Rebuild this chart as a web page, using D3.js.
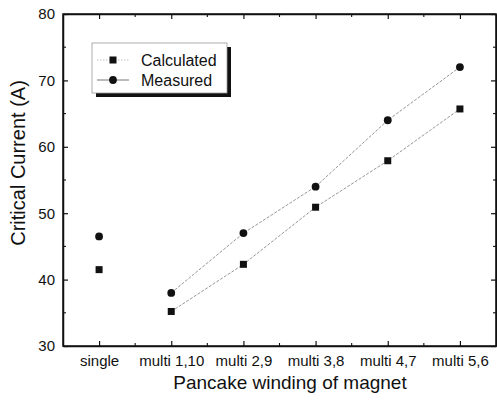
<!DOCTYPE html>
<html>
<head>
<meta charset="utf-8">
<script src="https://d3js.org/d3.v7.min.js"></script>
<style>
body { margin: 0; background: #fff; }
svg { font-family: Arial, "Liberation Sans", sans-serif; }
.axis path { stroke: #111; stroke-width: 1.5; }
.axis line { stroke: #111; stroke-width: 1.2; }
.axis text { font-size: 15px; fill: #111; }
</style>
</head>
<body>
<svg class="canvas"></svg>
<script>
var categories = ["single", "multi 1,10", "multi 2,9", "multi 3,8", "multi 4,7", "multi 5,6"];
var calculated = [41.5, 35.2, 42.3, 50.9, 57.9, 65.7];
var measured   = [46.5, 38.0, 47.0, 54.0, 64.0, 72.0];
var yTicks = [30, 40, 50, 60, 70, 80];
var yMinor = [35, 45, 55, 65, 75];
var seriesNames = ["Calculated", "Measured"];

var width = 497,
	height = 405;

var LEFT = 63, RIGHT = 496, TOP = 14, BOTTOM = 346;

var svg = d3.select(".canvas")
	.attr("width", width)
	.attr("height", height);

var x = d3.scalePoint().domain(categories).range([LEFT, RIGHT]).padding(0.5);
var y = d3.scaleLinear().domain([30, 80]).range([BOTTOM, TOP]);
var half = x.step() / 2;
var xMinor = categories.slice(0, -1).map(function(c) { return x(c) + half; });

// minor ticks, pointing inward on all four sides
function minorX(yPos, dir) {
	svg.append("g").selectAll("line").data(xMinor).enter().append("line")
		.attr("x1", function(d) { return d; }).attr("x2", function(d) { return d; })
		.attr("y1", yPos).attr("y2", yPos + dir * 3)
		.attr("stroke", "#111").attr("stroke-width", 1.1);
}
function minorY(xPos, dir) {
	svg.append("g").selectAll("line").data(yMinor).enter().append("line")
		.attr("y1", function(d) { return y(d); }).attr("y2", function(d) { return y(d); })
		.attr("x1", xPos).attr("x2", xPos + dir * 3)
		.attr("stroke", "#111").attr("stroke-width", 1.1);
}
minorX(BOTTOM, -1);
minorX(TOP, 1);
minorY(LEFT, 1);
minorY(RIGHT, -1);

svg.append("g").attr("class", "axis")
	.attr("transform", "translate(0," + BOTTOM + ")")
	.call(d3.axisBottom(x).tickSizeInner(-5).tickSizeOuter(0).tickPadding(9));

svg.append("g").attr("class", "axis")
	.attr("transform", "translate(0," + TOP + ")")
	.call(d3.axisTop(x).tickSizeInner(-5).tickSizeOuter(0).tickFormat(""));

svg.append("g").attr("class", "axis")
	.attr("transform", "translate(" + LEFT + ",0)")
	.call(d3.axisLeft(y).tickValues(yTicks).tickSizeInner(-5).tickSizeOuter(0).tickPadding(8));

svg.append("g").attr("class", "axis")
	.attr("transform", "translate(" + RIGHT + ",0)")
	.call(d3.axisRight(y).tickValues(yTicks).tickSizeInner(-5).tickSizeOuter(0).tickFormat(""));

// frame
svg.append("rect")
	.attr("x", LEFT).attr("y", TOP)
	.attr("width", RIGHT - LEFT).attr("height", BOTTOM - TOP)
	.attr("fill", "none").attr("stroke", "#111").attr("stroke-width", 1.5);

// connecting lines (multi windings only)
var line = d3.line()
	.x(function(d) { return x(d[0]); })
	.y(function(d) { return y(d[1]); });

[calculated, measured].forEach(function(vals) {
	var pts = categories.map(function(c, i) { return [c, vals[i]]; }).slice(1);
	svg.append("path")
		.attr("d", line(pts))
		.attr("fill", "none")
		.attr("stroke", "#8a8a8a")
		.attr("stroke-width", 0.9)
		.attr("stroke-dasharray", "3,1.5");
});

svg.append("g").selectAll("rect").data(calculated).enter().append("rect")
	.attr("x", function(d, i) { return x(categories[i]) - 3.5; })
	.attr("y", function(d) { return y(d) - 3.5; })
	.attr("width", 7).attr("height", 7)
	.attr("fill", "#111");

svg.append("g").selectAll("circle").data(measured).enter().append("circle")
	.attr("cx", function(d, i) { return x(categories[i]); })
	.attr("cy", function(d) { return y(d); })
	.attr("r", 3.9)
	.attr("fill", "#111");

// legend
var leg = svg.append("g").attr("transform", "translate(92,43)");
leg.append("rect").attr("x", 4).attr("y", 4).attr("width", 135).attr("height", 50).attr("fill", "#111");
leg.append("rect").attr("x", 0).attr("y", 0).attr("width", 135).attr("height", 50)
	.attr("fill", "#fff").attr("stroke", "#999").attr("stroke-width", 0.8);

seriesNames.forEach(function(name, i) {
	var ry = 17 + i * 20;
	leg.append("line").attr("x1", 5).attr("x2", 37).attr("y1", ry).attr("y2", ry)
		.attr("stroke", i == 0 ? "#bbb" : "#666").attr("stroke-width", 0.9)
		.attr("stroke-dasharray", i == 0 ? "1.5,1.5" : null);
	if (i == 0)
		leg.append("rect").attr("x", 17.5).attr("y", ry - 3.5).attr("width", 7).attr("height", 7).attr("fill", "#111");
	else
		leg.append("circle").attr("cx", 21).attr("cy", ry).attr("r", 3.9).attr("fill", "#111");
	leg.append("text")
		.attr("x", 49).attr("y", ry)
		.attr("dy", ".35em")
		.style("font-size", "16px")
		.attr("fill", "#111")
		.text(name);
});

svg.append("text")
	.attr("x", 290).attr("y", 389)
	.attr("text-anchor", "middle")
	.style("font-size", "19px")
	.attr("fill", "#111")
	.text("Pancake winding of magnet");

svg.append("text")
	.attr("transform", "translate(25,163) rotate(-90)")
	.attr("text-anchor", "middle")
	.style("font-size", "20px")
	.attr("fill", "#111")
	.text("Critical Current (A)");
</script>
</body>
</html>
